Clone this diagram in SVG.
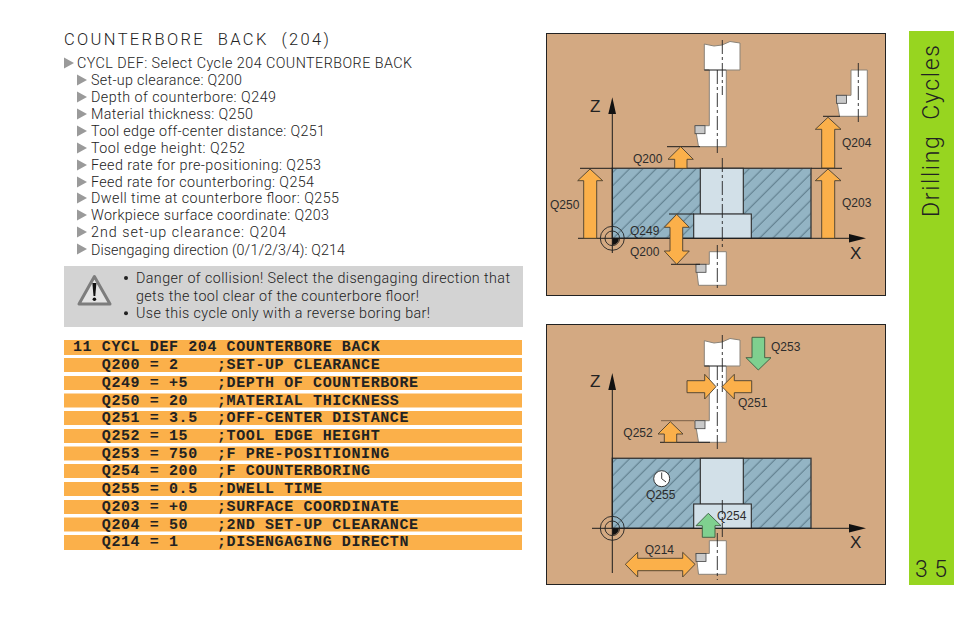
<svg xmlns="http://www.w3.org/2000/svg" width="954" height="618" viewBox="0 0 954 618">
<style>
text{font-family:"Liberation Sans",Arial,sans-serif;fill:#3a3a3a;white-space:pre}
.h{font-family:Roboto,"Liberation Sans",sans-serif;font-weight:300;font-size:16.500px;fill:#222}
.b{font-family:Roboto,"Liberation Sans",sans-serif;font-weight:300;font-size:14.300px;fill:#222}
.m{font-family:"Liberation Mono","Courier New",monospace;font-weight:700;font-size:15px;letter-spacing:.6px;fill:#222}
.q{font-size:12px;fill:#2c2c2c}
.ax{font-size:17px;fill:#222}
.tab{font-family:Roboto,"Liberation Sans",sans-serif;font-weight:300;font-size:23px;fill:#222}
.tri{fill:#9a9a9a}
.row{fill:#fbb04a}
.panel{fill:#d3a982;stroke:#222;stroke-width:1}
.blk{stroke:#3c3c3c;stroke-width:1.400;fill:url(#h2)}
.bore{fill:#d2e0e8;stroke:#2a2a2a;stroke-width:1.100}
.o{fill:#fbb04a;stroke:#4a4030;stroke-width:.9}
.g{fill:#7fd08f;stroke:#3c5a40;stroke-width:.9}
.l{stroke:#1c1c1c;stroke-width:1;fill:none}
.cl{stroke:#222;stroke-width:.9;stroke-dasharray:14 3 3 3;fill:none}
.t{fill:#fff;stroke:#8a8378;stroke-width:1}
.ins{fill:#c9c9c9;stroke:#444;stroke-width:.8}
</style>
<defs>
<pattern id="h2" patternUnits="userSpaceOnUse" width="9.400" height="9.400" patternTransform="rotate(-45 612 238)">
<rect width="9.400" height="9.400" fill="#93b4c4"/>
<line x1="0" y1="4" x2="9.400" y2="4" stroke="#3f5d6b" stroke-width=".7"/>
</pattern>
<polygon id="tri" points="0,0 10,5.500 0,11"/>
<g id="block">
<rect class="blk" x="612.300" y="168.300" width="198.700" height="70"/>
<rect class="bore" x="700.300" y="168.300" width="43" height="46"/>
<rect class="bore" x="693.700" y="214" width="57.600" height="24.300"/>
</g>
<g id="target">
<circle cx="612.300" cy="238.300" r="12" fill="none" stroke="#222" stroke-width=".9"/>
<circle cx="612.300" cy="238.300" r="7.300" fill="none" stroke="#222" stroke-width=".9"/>
<path d="M612.300 238.300h6.600a6.600 6.600 0 0 1-6.600 6.600z" fill="#111"/>
</g>
</defs>
<g id="title"><text class="h" x="64" y="45" textLength="265">COUNTERBORE  BACK  (204)</text></g>
<g id="steps">
<use href="#tri" x="64" y="57.500" class="tri"/><text class="b" x="77" y="68" textLength="335">CYCL DEF: Select Cycle 204 COUNTERBORE BACK</text>
<use href="#tri" x="77" y="74.500" class="tri"/><text class="b" x="91" y="85" textLength="151">Set-up clearance: Q200</text>
<use href="#tri" x="77" y="91.500" class="tri"/><text class="b" x="91" y="102" textLength="185">Depth of counterbore: Q249</text>
<use href="#tri" x="77" y="108.500" class="tri"/><text class="b" x="91" y="119" textLength="162">Material thickness: Q250</text>
<use href="#tri" x="77" y="125.500" class="tri"/><text class="b" x="91" y="136" textLength="234">Tool edge off-center distance: Q251</text>
<use href="#tri" x="77" y="142.500" class="tri"/><text class="b" x="91" y="153" textLength="154">Tool edge height: Q252</text>
<use href="#tri" x="77" y="159.500" class="tri"/><text class="b" x="91" y="170" textLength="230">Feed rate for pre-positioning: Q253</text>
<use href="#tri" x="77" y="176.500" class="tri"/><text class="b" x="91" y="187" textLength="223">Feed rate for counterboring: Q254</text>
<use href="#tri" x="77" y="192.500" class="tri"/><text class="b" x="91" y="203" textLength="248">Dwell time at counterbore floor: Q255</text>
<use href="#tri" x="77" y="209.500" class="tri"/><text class="b" x="91" y="220" textLength="238">Workpiece surface coordinate: Q203</text>
<use href="#tri" x="77" y="226.500" class="tri"/><text class="b" x="91" y="237" textLength="195">2nd set-up clearance: Q204</text>
<use href="#tri" x="77" y="243.500" class="tri"/><text class="b" x="91" y="255" textLength="254">Disengaging direction (0/1/2/3/4): Q214</text>
</g>
<g id="warning">
<rect x="64" y="266" width="459" height="61" fill="#d3d3d3"/>
<path d="M94.400 276.500L79 304h31z" fill="#e4e4e4" stroke="#7d7d7d" stroke-width="3" stroke-linejoin="round"/>
<path d="M92.400 283h4l-1.100 13h-1.800z" fill="#111"/><circle cx="94.400" cy="299.200" r="1.800" fill="#111"/>
<circle cx="126" cy="278" r="2" fill="#222"/><circle cx="126" cy="313.300" r="2" fill="#222"/>
<text class="b" x="136" y="283" textLength="374">Danger of collision! Select the disengaging direction that</text>
<text class="b" x="136" y="301" textLength="283">gets the tool clear of the counterbore floor!</text>
<text class="b" x="136" y="318" textLength="294">Use this cycle only with a reverse boring bar!</text>
</g>
<g id="program">
<rect class="row" x="64" y="340" width="458" height="15"/>
<rect class="row" x="64" y="358" width="458" height="14"/>
<rect class="row" x="64" y="376" width="458" height="14"/>
<rect class="row" x="64" y="393.500" width="458" height="14"/>
<rect class="row" x="64" y="411" width="458" height="14"/>
<rect class="row" x="64" y="429" width="458" height="14"/>
<rect class="row" x="64" y="446.500" width="458" height="14"/>
<rect class="row" x="64" y="464" width="458" height="14"/>
<rect class="row" x="64" y="482" width="458" height="14"/>
<rect class="row" x="64" y="500" width="458" height="14"/>
<rect class="row" x="64" y="517.500" width="458" height="14"/>
<rect class="row" x="64" y="535" width="458" height="15"/>
<text class="m" x="73" y="351">11 CYCL DEF 204 COUNTERBORE BACK</text>
<text class="m" x="101.800" y="369">Q200 = 2    ;SET-UP CLEARANCE</text>
<text class="m" x="101.800" y="387">Q249 = +5   ;DEPTH OF COUNTERBORE</text>
<text class="m" x="101.800" y="404.500">Q250 = 20   ;MATERIAL THICKNESS</text>
<text class="m" x="101.800" y="422">Q251 = 3.5  ;OFF-CENTER DISTANCE</text>
<text class="m" x="101.800" y="440">Q252 = 15   ;TOOL EDGE HEIGHT</text>
<text class="m" x="101.800" y="457.500">Q253 = 750  ;F PRE-POSITIONING</text>
<text class="m" x="101.800" y="475">Q254 = 200  ;F COUNTERBORING</text>
<text class="m" x="101.800" y="493">Q255 = 0.5  ;DWELL TIME</text>
<text class="m" x="101.800" y="511">Q203 = +0   ;SURFACE COORDINATE</text>
<text class="m" x="101.800" y="528.500">Q204 = 50   ;2ND SET-UP CLEARANCE</text>
<text class="m" x="101.800" y="546">Q214 = 1    ;DISENGAGING DIRECTN</text>
</g>
<g id="panel-top">
<rect class="panel" x="546.500" y="33.500" width="339" height="262"/>
<use href="#block"/>
<path class="t" d="M704.300 44L714 46 722 45 730 41.500 740 43V70H726.300V146.700H698.500L695 125.700H709.300V70H704.300z"/>
<path class="l" d="M704.300 70H726.300"/>
<rect class="ins" x="695" y="125.700" width="10" height="8"/>
<path class="t" d="M709.300 251.700H726.300V285.300H698.500L696 264.300H709.300z"/>
<rect class="ins" x="696" y="264.300" width="10" height="8"/>
<path class="t" d="M851 70H867.300V116.300H839.500L836 95.300H851z"/>
<rect class="ins" x="836.500" y="95.300" width="10" height="8"/>
<g id="connectors-top">
<path class="cl" d="M717.300 70V154M717.300 245V290M722.300 40V95M722.300 158V250M858.300 63V122"/>
<path class="l" d="M612.300 114V253M578 238.300H850M580 168.300H612.300M811 168.300H842M667 146.700H700M669 214H694M671 264.300H700M823 116.300H840"/>
<path d="M612.300 97.300L616 114H608.300zM866 238.300L849 234V242.500z" fill="#111"/>
<path class="o" d="M590 169L602.700 180.700H596.700V238.300H583.700V180.700H577.700z"/>
<path class="o" d="M680.700 146.700L693.300 159.300H687V168.300H674.700V159.300H668z"/>
<path class="o" d="M676.700 214.300L689.300 227.300H682.700V251H689.300L676.700 264.300 664.300 251H670V227.300H664.300z"/>
<path class="o" d="M828 117.300L841 129.300H834.700V168H821.700V129.300H815.300z"/>
<path class="o" d="M828 169L841 180.700H834.700V238.300H821.700V180.700H815.300z"/>
<use href="#target"/>
</g>
<text class="ax" x="590" y="112">Z</text><text class="ax" x="850" y="259">X</text>
<text class="q" x="633" y="162.700">Q200</text><text class="q" x="550" y="209">Q250</text><text class="q" x="630" y="235">Q249</text><text class="q" x="630" y="255.700">Q200</text><text class="q" x="842" y="146.700">Q204</text><text class="q" x="842" y="207.300">Q203</text>
</g>
<g id="panel-bottom">
<rect class="panel" x="546.500" y="324.500" width="339" height="260"/>
<use href="#block" y="290"/>
<path class="t" d="M704.300 340.700L714 343 722 342 730 338.500 740 340V366H726.300V442.300H698.500L695 420.700H709.300V366H704.300z"/>
<path class="l" d="M704.300 366H726.300"/>
<rect class="ins" x="695" y="420.700" width="10" height="8"/>
<path class="t" d="M709.300 540.700H726.300V574.300H698.500L696 553.500H709.300z"/>
<rect class="ins" x="696" y="553.500" width="10" height="8"/>
<g id="connectors-bottom">
<path class="cl" d="M717.300 366V450M717.300 533V580M722.300 335V392M722.300 500V537"/>
<path class="l" d="M612.300 390V573M592 528.300H850M660 442.300H710"/>
<path d="M661 420.700H694" stroke="#7a5f48" stroke-width="1"/>
<path d="M612.300 373L616 390H608.300zM866 528.300L849 524V532.500z" fill="#111"/>
<path class="g" d="M752 337.300H764.700V357.700H771L758.300 370 746 357.700H752z"/>
<path class="o" d="M687 380.700H704.700V374.300L716 386.700 704.700 399V392.700H687z"/>
<path class="o" d="M751.700 380.700H734.300V374.300L722 386.700 734.300 399V392.700H751.700z"/>
<path class="o" d="M670.300 421.700L683 434H676.700V442.300H664.300V434H658z"/>
<path class="o" d="M625.300 564.300L637.700 552.300V558.300H682.700V552.300L695 564.300 682.700 577V570.700H637.700V577z"/>
<path class="g" d="M708.300 513.300L721 525.700H715V537.300H702.300V525.700H696z"/>
<use href="#target" y="290"/>
</g>
<circle cx="661.700" cy="478.700" r="8" fill="#fff" stroke="#222" stroke-width=".9"/>
<path d="M661.700 472.500V478.700L666 482" fill="none" stroke="#222" stroke-width=".9"/>
<text class="ax" x="590" y="387">Z</text><text class="ax" x="850" y="548">X</text>
<text class="q" x="771" y="351">Q253</text><text class="q" x="738" y="407.300">Q251</text><text class="q" x="623.300" y="436.700">Q252</text><text class="q" x="646" y="499">Q255</text><text class="q" x="717" y="520">Q254</text><text class="q" x="644.700" y="554">Q214</text>
</g>
<g id="side-tab">
<rect x="909" y="31" width="45" height="554" fill="#97d520"/>
<text class="tab" transform="translate(938.500 217) rotate(-90)" textLength="172">Drilling  Cycles</text>
<text class="tab" x="915" y="577" textLength="32">3 5</text>
</g>
</svg>
